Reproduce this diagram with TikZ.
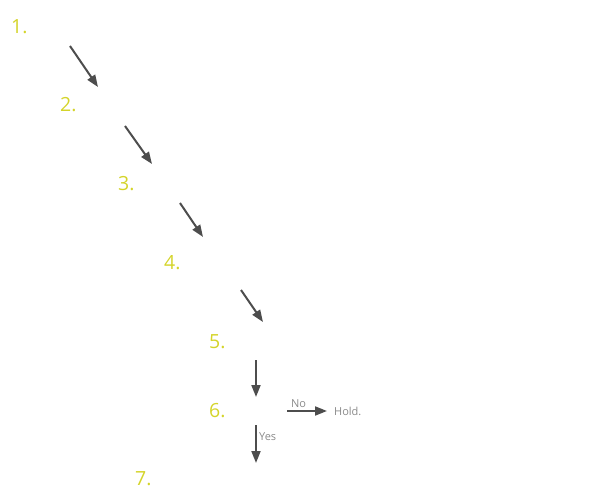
\documentclass[tikz,border=0pt]{standalone}
\usepackage{fontspec}
\setmainfont{Open Sans}
\usetikzlibrary{arrows.meta}
\definecolor{numc}{HTML}{D4D42A}
\definecolor{arrc}{HTML}{4D4D4D}
\definecolor{labc}{HTML}{8A8A8A}
\tikzset{
  num/.style={text=numc, font=\fontsize{19.5}{21}\selectfont, inner sep=0pt, anchor=west},
  lab/.style={text=labc, font=\fontsize{11}{13}\selectfont, inner sep=0pt},
  flow/.style={draw=arrc, line width=2pt, -{Triangle[length=12pt,width=9pt]}}
}
\begin{document}
\begin{tikzpicture}[x=1pt,y=-1pt]
\useasboundingbox (0,0) rectangle (590,500);
\node[num] (n1) at (11,27) {1.};
\node[num] (n2) at (60,105) {2.};
\node[num] (n3) at (118,184) {3.};
\node[num] (n4) at (164,263) {4.};
\node[num] (n5) at (209,342) {5.};
\node[num] (n6) at (209,411) {6.};
\node[num] (n7) at (135,479) {7.};
\coordinate (a1s) at (70,46);   \coordinate (a1e) at (98,87);
\coordinate (a2s) at (125,126); \coordinate (a2e) at (152,164);
\coordinate (a3s) at (180,203); \coordinate (a3e) at (203,237);
\coordinate (a4s) at (241,290); \coordinate (a4e) at (263,322);
\coordinate (a5s) at (256,360); \coordinate (a5e) at (256,397);
\coordinate (a6s) at (256,425); \coordinate (a6e) at (256,463);
\coordinate (a7s) at (287,411); \coordinate (a7e) at (327,411);
\draw[flow] (a1s) -- (a1e);
\draw[flow] (a2s) -- (a2e);
\draw[flow] (a3s) -- (a3e);
\draw[flow] (a4s) -- (a4e);
\draw[flow] (a5s) -- (a5e);
\draw[flow] (a6s) -- (a6e);
\draw[flow] (a7s) -- (a7e);
\node[lab, anchor=west] (hold) at (334,411) {Hold.};
\node[lab, anchor=south west] (no) at (291,408) {No};
\node[lab, anchor=west] (yes) at (259,437) {Yes};
\end{tikzpicture}
\end{document}
